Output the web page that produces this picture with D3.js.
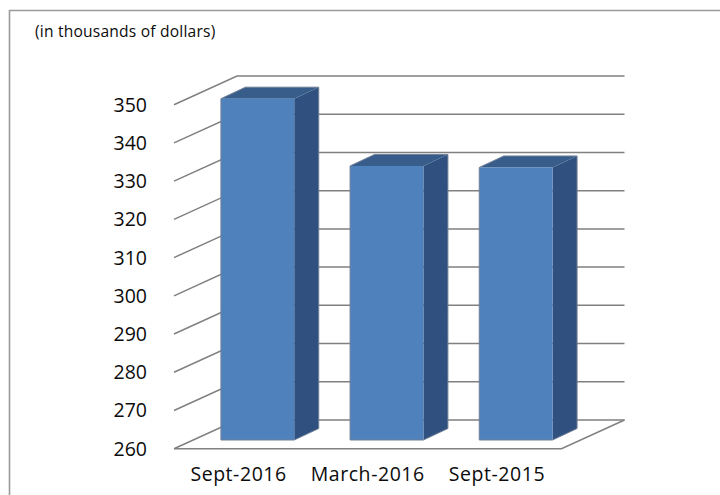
<!DOCTYPE html>
<html>
<head>
<meta charset="utf-8">
<script src="https://cdn.jsdelivr.net/npm/d3@7"></script>
<style>
  html, body { margin: 0; background: #fff; }
  text { font-family: "Open Sans", sans-serif; fill: #0c0c0c; }
</style>
</head>
<body>
<div id="chart"></div>
<script>
const periods = ["Sept-2016", "March-2016", "Sept-2015"];
const amounts = [349.3, 331.7, 331.3];
const ticks = [260, 270, 280, 290, 300, 310, 320, 330, 340, 350];
const unitLabel = "(in thousands of dollars)";

const width = 720, height = 495;
const floor = {x0: 174, x1: 561.5, dx: 63, dy: -28.7};
const barDepth = {dx: 24.5, dy: -11.5};
const barShift = {dx: 19, dy: -8.7}; // bars stand part way back on the floor

const svg = d3.select('#chart').append('svg')
    .attr('width', width)
    .attr('height', height);

const y = d3.scaleLinear().domain([260, 350]).range([448.7, 104.7]);
const x = d3.scaleBand().domain(periods).range([floor.x0, floor.x1]).paddingInner(0.4324).paddingOuter(0.2162);

const gridColor = '#808080';

// frame: only top and left are visible
svg.append('path')
    .attr('d', `M720,10.5H9.5V495`)
    .attr('fill', 'none')
    .attr('stroke', '#9a9a9a')
    .attr('stroke-width', 1.6);

svg.append('text')
    .attr('x', 35)
    .attr('y', 37)
    .attr('font-size', 15.6)
    .attr('letter-spacing', 0.2)
    .text(unitLabel);

const grid = svg.append('g').attr('fill', 'none').attr('stroke', gridColor).attr('stroke-width', 1.5);

// side wall and back wall lines
grid.selectAll('path')
    .data(ticks)
    .enter().append('path')
    .attr('d', d => `M${floor.x0},${y(d)}l${floor.dx},${floor.dy}H${floor.x1 + floor.dx}`);

// floor front edge and right edge
grid.append('path')
    .attr('d', `M${floor.x0},${y(260)}H${floor.x1}l${floor.dx},${floor.dy}`);

const bars = svg.selectAll('.bar')
    .data(periods.map((p, i) => ({period: p, value: amounts[i]})))
    .enter().append('g')
    .attr('class', 'bar');

const barX = d => x(d.period) + barShift.dx;
const barY = d => y(d.value) + barShift.dy;
const barBottom = y(260) + barShift.dy;

// side face
bars.append('path')
    .attr('d', d => {
        const r = barX(d) + x.bandwidth();
        return `M${r},${barY(d)}l${barDepth.dx},${barDepth.dy}V${barBottom + barDepth.dy}l${-barDepth.dx},${-barDepth.dy}Z`;
    })
    .attr('fill', '#30517f');

// top face
bars.append('path')
    .attr('d', d => `M${barX(d)},${barY(d)}l${barDepth.dx},${barDepth.dy}h${x.bandwidth()}l${-barDepth.dx},${-barDepth.dy}Z`)
    .attr('fill', '#385d8a');

// front face
bars.append('rect')
    .attr('x', barX)
    .attr('y', barY)
    .attr('width', x.bandwidth())
    .attr('height', d => barBottom - barY(d))
    .attr('fill', '#4f81bd');

// outline of each bar
bars.append('path')
    .attr('d', d => {
        const w = x.bandwidth();
        return `M${barX(d)},${barBottom}V${barY(d)}l${barDepth.dx},${barDepth.dy}h${w}V${barBottom + barDepth.dy}l${-barDepth.dx},${-barDepth.dy}H${barX(d)}`;
    })
    .attr('fill', 'none')
    .attr('stroke', '#6f7f96')
    .attr('stroke-width', 1);

svg.selectAll('.ylab')
    .data(ticks)
    .enter().append('text')
    .attr('class', 'ylab')
    .attr('x', 147)
    .attr('y', d => y(d) + 7)
    .attr('text-anchor', 'end')
    .attr('font-size', 19.5)
    .text(d => d);

svg.selectAll('.xlab')
    .data(periods)
    .enter().append('text')
    .attr('class', 'xlab')
    .attr('x', d => x(d) + x.bandwidth() / 2)
    .attr('y', 481)
    .attr('text-anchor', 'middle')
    .attr('font-size', 19.5)
    .attr('letter-spacing', 0.55)
    .text(d => d);
</script>
</body>
</html>
